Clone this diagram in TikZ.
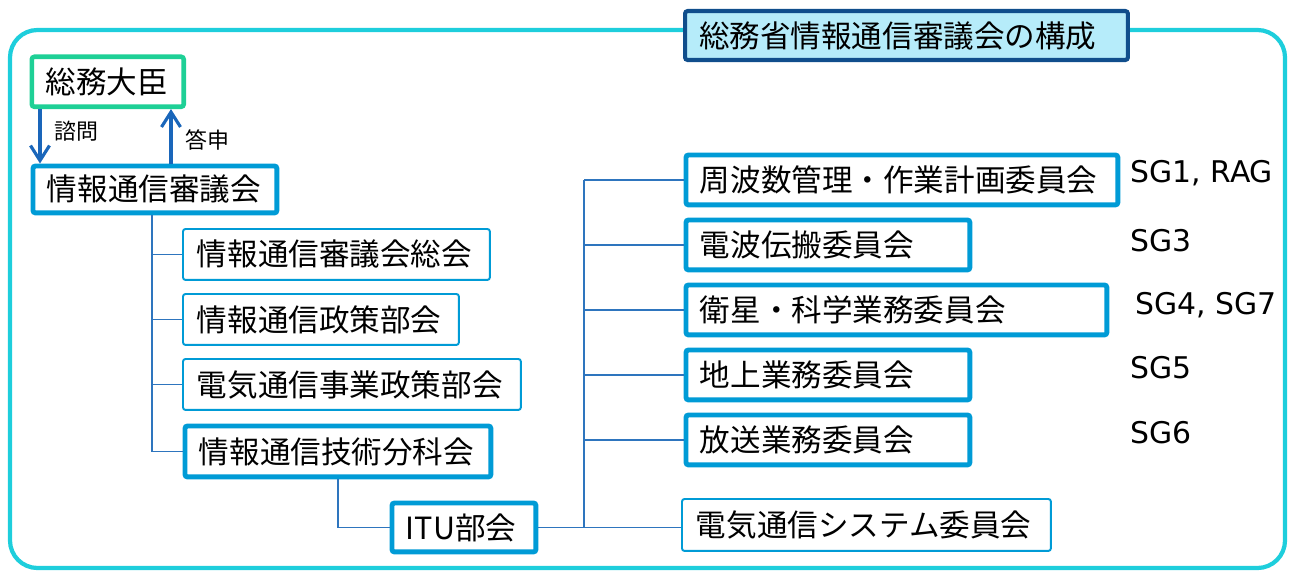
\documentclass[tikz,border=0pt]{standalone}
\usepackage{fontspec}
\setmainfont{Noto Sans CJK JP}
\newfontfamily\sgfont{DejaVu Sans}
\usetikzlibrary{arrows.meta}
\definecolor{framecyan}{RGB}{30,206,220}
\definecolor{titlefill}{RGB}{182,236,250}
\definecolor{titleblue}{RGB}{16,78,140}
\definecolor{minigreen}{RGB}{30,208,150}
\definecolor{boxblue}{RGB}{0,155,214}
\definecolor{linkblue}{RGB}{46,117,190}
\definecolor{askblue}{RGB}{26,102,186}
\tikzset{
  basebox/.style={anchor=north west, inner xsep=0.28cm, inner ysep=0pt, rounded corners=1.5pt,
    fill=white, font=\fontsize{17.4}{20}\selectfont},
  thickbox/.style={basebox, draw=boxblue, line width=2.8pt},
  thinbox/.style={basebox, draw=boxblue, line width=1.1pt},
  ministerbox/.style={basebox, draw=minigreen, line width=2.6pt},
  titlebox/.style={basebox, draw=titleblue, fill=titlefill, line width=2.3pt},
  outerframe/.style={draw=framecyan, line width=2.4pt, rounded corners=0.55cm},
  link/.style={draw=linkblue, line width=0.85pt},
  ask/.style={draw=askblue, line width=1.8pt, -{Straight Barb[length=3mm,width=3.8mm]}},
  asklabel/.style={right=0.15cm, font=\fontsize{12.5}{14}\selectfont},
  sglabel/.style={anchor=base west, inner sep=0pt, font=\sgfont\fontsize{17}{20}\selectfont}
}
\begin{document}
\begin{tikzpicture}[x=0.02cm,y=-0.02cm]
      \useasboundingbox (0,0) rectangle (1293,571);
      \draw[outerframe] (10,30) rectangle (1285,568);
      \node[titlebox, text width=8.30cm, minimum height=0.98cm] (title) at (683,9) {総務省情報通信審議会の構成};

      % left side
      \node[ministerbox, text width=2.48cm, minimum height=1.0cm] (minister) at (29.5,54.5) {総務大臣};
      \node[thickbox, text width=4.32cm, minimum height=0.94cm] (council) at (30.5,163.5) {情報通信審議会};
      \node[thinbox, text width=5.58cm, minimum height=1.02cm] (soukai) at (182,228) {情報通信審議会総会};
      \node[thinbox, text width=4.96cm, minimum height=1.02cm] (seisaku) at (182,293) {情報通信政策部会};
      \node[thinbox, text width=6.20cm, minimum height=1.02cm] (jigyou) at (182,358) {電気通信事業政策部会};
      \node[thickbox, text width=5.56cm, minimum height=1.02cm] (gijutsu) at (182.5,423.5) {情報通信技術分科会};
      \node[thickbox, text width=2.32cm, minimum height=0.98cm] (itu) at (389.5,500.5) {ITU部会};

      % right side
      \node[thickbox, text width=8.08cm, minimum height=1.0cm] (kanri) at (683.5,152.5) {周波数管理・作業計画委員会};
      \node[thickbox, text width=5.12cm, minimum height=1.0cm] (denpa) at (683.5,217.5) {電波伝搬委員会};
      \node[thickbox, text width=7.86cm, minimum height=1.0cm] (eisei) at (683.5,282.5) {衛星・科学業務委員会};
      \node[thickbox, text width=5.12cm, minimum height=1.0cm] (chijou) at (683.5,347.5) {地上業務委員会};
      \node[thickbox, text width=5.12cm, minimum height=1.0cm] (housou) at (683.5,412.5) {放送業務委員会};
      \node[thinbox, text width=6.82cm, minimum height=1.04cm] (system) at (681,498) {電気通信システム委員会};

      \node[sglabel] (sgkanri) at (1130,182) {SG1, RAG};
      \node[sglabel] (sgdenpa) at (1130,251) {SG3};
      \node[sglabel] (sgeisei) at (1135,314) {SG4, SG7};
      \node[sglabel] (sgchijou) at (1130,378) {SG5};
      \node[sglabel] (sghousou) at (1130,443) {SG6};

      % connectors
      \coordinate (askx) at (40,0);
      \coordinate (ansx) at (171,0);
      \coordinate (ltrunk) at (152,0);
      \coordinate (rtrunk) at (584,0);
      \draw[ask] (askx |- minister.south) -- node[pos=0.4, asklabel] (ask) {諮問} (askx |- council.north);
      \draw[ask] (ansx |- council.north) -- node[pos=0.43, asklabel] (answer) {答申} (ansx |- minister.south);
      \draw[link] (ltrunk |- council.south) |- (gijutsu.west);
      \foreach \n in {soukai,seisaku,jigyou}
        \draw[link] (ltrunk |- \n.west) -- (\n.west);
      \draw[link] (gijutsu.south) |- (itu.west);
      \draw[link] (itu.east) -- (itu.east -| system.west);
      \draw[link] (rtrunk |- kanri.west) -- (rtrunk |- itu.east);
      \foreach \n in {kanri,denpa,eisei,chijou,housou}
        \draw[link] (rtrunk |- \n.west) -- (\n.west);
\end{tikzpicture}
\end{document}
